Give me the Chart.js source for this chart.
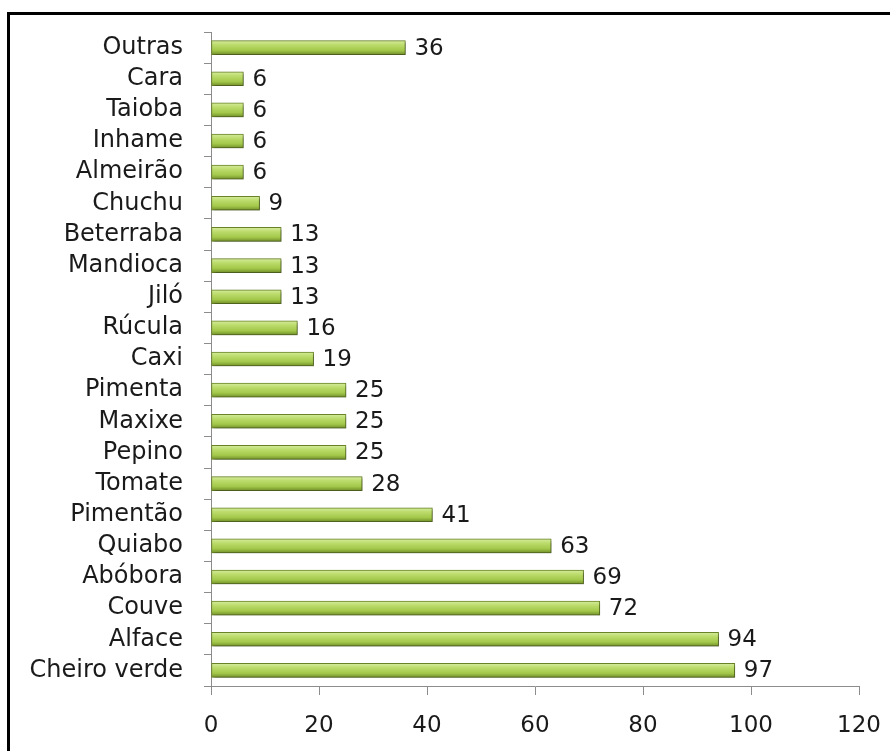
<!DOCTYPE html>
<html>
<head>
<meta charset="utf-8">
<script src="https://cdn.jsdelivr.net/npm/chart.js@4"></script>
<style>
  html, body { margin: 0; padding: 0; background: #fff; overflow: hidden; }
  canvas { display: block; }
</style>
</head>
<body>
<canvas id="c" width="890" height="751"></canvas>
<script>
const categories = ["Outras","Cara","Taioba","Inhame","Almeirão","Chuchu","Beterraba","Mandioca","Jiló","Rúcula","Caxi","Pimenta","Maxixe","Pepino","Tomate","Pimentão","Quiabo","Abóbora","Couve","Alface","Cheiro verde"];
const values = [36,6,6,6,6,9,13,13,13,16,19,25,25,25,28,41,63,69,72,94,97];
const xTicks = [0,20,40,60,80,100,120];

const FONT = "'DejaVu Sans', sans-serif";

const frame = {
  id: 'frame',
  beforeDraw(chart) {
    const ctx = chart.ctx;
    ctx.save();
    ctx.fillStyle = '#fff';
    ctx.fillRect(0, 0, chart.width, chart.height);
    ctx.fillStyle = '#000';
    ctx.fillRect(7, 12, chart.width - 7, 3);
    ctx.fillRect(7, 12, 3, chart.height - 12);
    ctx.restore();
  }
};

const valueLabels = {
  id: 'valueLabels',
  afterDatasetsDraw(chart) {
    const ctx = chart.ctx;
    const meta = chart.getDatasetMeta(0);
    ctx.save();
    ctx.font = "23px " + FONT;
    ctx.fillStyle = "#1a1a1a";
    ctx.textAlign = "left";
    ctx.textBaseline = "middle";
    meta.data.forEach((bar, i) => {
      ctx.fillText(String(values[i]), bar.x + 9, bar.y + 1);
    });
    ctx.restore();
  }
};

const barShadow = {
  id: 'barShadow',
  beforeDatasetDraw(chart) {
    const ctx = chart.ctx;
    ctx.save();
    ctx.shadowColor = 'rgba(0,0,0,0.35)';
    ctx.shadowBlur = 3;
    ctx.shadowOffsetX = 2;
    ctx.shadowOffsetY = 2;
  },
  afterDatasetDraw(chart) {
    chart.ctx.restore();
  }
};

function barGradient(context) {
  const chart = context.chart;
  const y = chart.scales.y;
  if (!y || context.dataIndex === undefined) return '#a6cc4e';
  const yc = y.getPixelForValue(context.dataIndex);
  if (!isFinite(yc)) return '#a6cc4e';
  const g = chart.ctx.createLinearGradient(0, yc - 7, 0, yc + 7);
  g.addColorStop(0, '#d6ec9f');
  g.addColorStop(0.3, '#bcdc6c');
  g.addColorStop(0.7, '#a3c84a');
  g.addColorStop(1, '#728f2a');
  return g;
}

new Chart(document.getElementById('c'), {
  type: 'bar',
  data: {
    labels: categories,
    datasets: [{
      data: values,
      backgroundColor: barGradient,
      borderColor: '#6a8526',
      borderWidth: 1,
      borderSkipped: false,
      barThickness: 14
    }]
  },
  plugins: [frame, barShadow, valueLabels],
  options: {
    indexAxis: 'y',
    responsive: false,
    animation: false,
    devicePixelRatio: 1,
    layout: { padding: { left: 0, top: 32, right: 31, bottom: 0 } },
    plugins: { legend: { display: false }, tooltip: { enabled: false } },
    scales: {
      x: {
        min: 0, max: 120,
        afterBuildTicks(scale) { scale.ticks = xTicks.map(v => ({ value: v })); },
        afterFit(scale) { scale.height = 65; scale.paddingLeft = 0; scale.paddingRight = 0; },
        border: { display: true, color: '#8c8c8c', width: 1 },
        grid: { drawOnChartArea: false, drawTicks: true, tickLength: 9, color: '#8c8c8c' },
        ticks: { font: { family: FONT, size: 23 }, color: '#1a1a1a', padding: 17 }
      },
      y: {
        afterFit(scale) { scale.width = 211; scale.paddingTop = 0; scale.paddingBottom = 0; },
        border: { display: true, color: '#8c8c8c', width: 1 },
        grid: { drawOnChartArea: false, drawTicks: true, tickLength: 7, color: '#8c8c8c', offset: true },
        ticks: { font: { family: FONT, size: 24 }, color: '#1a1a1a', padding: 21, autoSkip: false }
      }
    }
  }
});
</script>
</body>
</html>
